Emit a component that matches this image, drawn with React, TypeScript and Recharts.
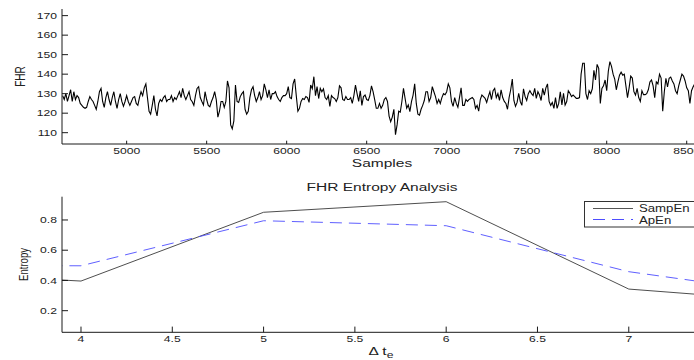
import React from 'react';
import { LineChart, Line, XAxis, YAxis } from 'recharts';

const FONT = '"Liberation Sans", Arial, Helvetica, sans-serif';
const SX = 1.35; // horizontal glyph stretch used for all labels

// ---- FHR trace (one value every 10 samples, starting at sample 4600) ----
const SAMPLE_START = 4600;
const SAMPLE_STEP = 10;

const fhrSeg1 = [
  129, 127, 130, 126, 129, 132, 126, 131, 127, 129,
  128, 125, 124, 123, 122.5, 123, 126, 128.5, 127, 126,
  124, 122, 126, 131, 132.7, 126, 123, 128, 131, 127,
  124, 128, 131, 126, 122.5, 127, 130, 126, 123.5, 126,
  129, 126, 124, 126, 128, 128.5, 125, 124, 128, 131,
  129, 133, 135, 128, 121, 119.5, 124, 129, 122, 118.6,
  125, 127, 126, 128, 129, 126, 127,
];
const fhrSeg2 = [
  127, 129, 126, 128, 127, 129, 131, 128, 132.7, 129,
  127, 129, 131, 127, 125.9, 124, 129, 132.7, 133.6, 128,
  126, 124.2, 131, 127, 124, 123.3, 126, 128, 131, 127,
  118, 121, 126, 126, 123, 126, 136.5, 133, 114, 112,
  116, 134.4, 126, 125.5, 128.5, 130, 131, 122, 119.5, 121,
  128, 132, 133.6, 129, 126, 128, 131, 127, 129, 135,
  132, 128, 132, 127, 130,
];
const fhrSeg3 = [
  130, 131, 128.5, 127, 126, 128, 129, 129, 130, 133.6,
  128, 127.5, 135, 137.5, 129, 121, 122.5, 126, 127.5, 127,
  128.5, 128, 125.5, 134.4, 132.5, 138.7, 129, 133.6, 127.5, 132.7,
  131, 132.5, 128, 127, 129, 123.5, 129, 128, 127.5, 126,
  128, 134, 133, 127, 126.5, 128.5, 127, 127, 128, 125,
  129, 134.4, 130, 126, 131.5, 124, 128.5, 129.3, 127, 126.5,
  129, 134, 131, 127, 122.5, 122.5,
];
const fhrSeg4 = [
  125, 122.5, 124, 127, 128, 126, 118.5, 115.6, 118, 122,
  109, 114, 121, 120.5, 126, 132.7, 127.6, 122.5, 124.2, 120.8,
  125.9, 129.3, 135, 125, 119.5, 119, 122, 124, 126.5, 131,
  131, 126, 128, 133.6, 131, 128.5, 125, 127, 125, 128,
  130, 129.5, 131, 135, 133, 126, 123.5, 128, 125, 123,
  128, 133, 124, 124, 127, 126, 127, 127.5, 128, 127,
  122.5, 124, 121, 127, 129.3,
];
const fhrSeg5 = [
  128.5, 127.6, 125.5, 128.5, 131, 127, 131.5, 132.7, 128, 130,
  126.5, 132, 128, 126, 125, 122, 128, 132, 137.5, 126.5,
  123.5, 125.5, 130.2, 126, 124, 132.5, 128.5, 126.5, 130, 131.5,
  130, 129, 132.7, 127.6, 131, 129.3, 126.5, 132.7, 129.3, 133,
  135, 126, 124, 125.5, 122.5, 128, 122.5, 125, 131, 124.2,
  130.2, 124.2, 126, 131.5, 130.2, 128.5, 129.3, 128.5, 127.6, 127.6,
  128, 140, 145.6, 145.6, 130, 127,
];
const fhrSeg6 = [
  131.5, 130, 132.5, 142, 137, 145, 143, 125, 132.7, 134,
  137, 131.5, 141.5, 146.4, 144, 140, 137.5, 132, 136, 139.5,
  141, 139.5, 140, 134, 128, 133, 139, 138, 131, 129.3,
  132.7, 128, 126, 131.5, 129.5, 129.5, 130, 132, 136, 137,
  134, 128, 136, 135, 140, 138, 121, 131, 137.9, 133.5,
  137.9, 138.5, 136.5, 135, 131.5, 130, 134, 137, 140, 139,
  136.5, 133, 131.5, 125, 131.5, 133.5,
  135, 131, 128, 134, 137, 132, 129,
];

const fhrValues = [...fhrSeg1, ...fhrSeg2, ...fhrSeg3, ...fhrSeg4, ...fhrSeg5, ...fhrSeg6];
const fhrData = fhrValues.map((v, i) => ({ sample: SAMPLE_START + i * SAMPLE_STEP, fhr: v }));

const sampleTicks = [5000, 5500, 6000, 6500, 7000, 7500, 8000, 8500];
const fhrTicks = [110, 120, 130, 140, 150, 160, 170];
const sampleDomain = [4596, 8608];
const fhrDomain = [104.2, 173.4];

// ---- Entropy vs. delta t_e ----
const deltaT = [3, 4, 5, 6, 7, 8];
const sampEn = [0.46, 0.396, 0.851, 0.921, 0.343, 0.25];
const apEn = [0.5, 0.497, 0.795, 0.762, 0.458, 0.29];
const entropyData = deltaT.map((d, i) => ({ dt: d, samp: sampEn[i], ap: apEn[i] }));

const deltaTicks = [4, 4.5, 5, 5.5, 6, 6.5, 7];
const entropyTicks = [0.2, 0.4, 0.6, 0.8];
const deltaDomain = [3.896, 7.412];
const entropyDomain = [0.057, 0.954];

const AXIS_COLOR = '#1a1a1a';
const TEXT_COLOR = '#222';

const makeXTick = (drop: number, fmt: (v: number) => string) => (props: any) => {
  const { x, y, payload } = props;
  return (
    <text
      transform={`translate(${x},${y + drop}) scale(${SX},1)`}
      textAnchor="middle"
      fontSize={9}
      fontFamily={FONT}
      fill={TEXT_COLOR}
    >
      {fmt(payload.value)}
    </text>
  );
};

const makeYTick = (fmt: (v: number) => string) => (props: any) => {
  const { x, y, payload } = props;
  return (
    <text
      transform={`translate(${x},${y + 3.2}) scale(${SX},1)`}
      textAnchor="end"
      fontSize={9}
      fontFamily={FONT}
      fill={TEXT_COLOR}
    >
      {fmt(payload.value)}
    </text>
  );
};

const EmptyTick = () => <g />;

const fmtInt = (v: number) => String(v);
const fmtOne = (v: number) => v.toFixed(1);
const fmtDelta = (v: number) => String(v);

const Labels = () => (
  <svg
    width={694}
    height={360}
    style={{ position: 'absolute', left: 0, top: 0, pointerEvents: 'none' }}
  >
    <g fontFamily={FONT} fill={TEXT_COLOR}>
      <text transform="translate(25,76.5) rotate(-90) scale(1,1.4)" textAnchor="middle" fontSize={10}>
        FHR
      </text>
      <text transform={`translate(382,166.5) scale(${SX},1)`} textAnchor="middle" fontSize={11.5}>
        Samples
      </text>
      <text transform={`translate(382,190.5) scale(${SX},1)`} textAnchor="middle" fontSize={11.5}>
        FHR Entropy Analysis
      </text>
      <text transform="translate(28,264.5) rotate(-90) scale(1,1.4)" textAnchor="middle" fontSize={9.6}>
        Entropy
      </text>
      <text transform={`translate(381,355) scale(${SX},1)`} textAnchor="middle" fontSize={11.5}>
        Δ t
        <tspan fontSize={9} dy={3}>e</tspan>
      </text>
    </g>
    {/* legend */}
    <rect x={584.5} y={201.5} width={130} height={25.5} fill="#fff" stroke="#333" strokeWidth={1} />
    <line x1={593} y1={208.5} x2={633} y2={208.5} stroke="#555" strokeWidth={1} />
    <line x1={593} y1={219.5} x2={633} y2={219.5} stroke="#4d4dff" strokeWidth={1} strokeDasharray="12 7" />
    <g fontFamily={FONT} fill={TEXT_COLOR} fontSize={11}>
      <text transform="translate(639,212) scale(1.2,1)">SampEn</text>
      <text transform="translate(639,223.5) scale(1.2,1)">ApEn</text>
    </g>
  </svg>
);

export default function App() {
  return (
    <div
      style={{
        position: 'absolute',
        left: 0,
        top: 0,
        width: 694,
        height: 360,
        overflow: 'hidden',
        background: '#fff',
      }}
    >
      <div style={{ position: 'absolute', left: 0, top: 0 }}>
        <LineChart width={720} height={180} data={fhrData} margin={{ top: 9, right: 16, bottom: 16, left: 0 }}>
          <XAxis
            dataKey="sample"
            type="number"
            domain={sampleDomain}
            ticks={sampleTicks}
            interval={0}
            allowDataOverflow
            height={20}
            tickSize={-3.3}
            tickMargin={3.3}
            tick={makeXTick(10, fmtInt)}
            axisLine={{ stroke: AXIS_COLOR }}
            tickLine={{ stroke: AXIS_COLOR }}
          />
          <XAxis
            xAxisId="top"
            orientation="top"
            dataKey="sample"
            type="number"
            domain={sampleDomain}
            ticks={sampleTicks}
            interval={0}
            allowDataOverflow
            height={0}
            tickSize={-3.3}
            tick={EmptyTick}
            axisLine={{ stroke: '#777' }}
            tickLine={{ stroke: AXIS_COLOR }}
          />
          <YAxis
            type="number"
            domain={fhrDomain}
            ticks={fhrTicks}
            interval={0}
            allowDataOverflow
            width={62}
            tickSize={-6}
            tickMargin={11}
            tick={makeYTick(fmtInt)}
            axisLine={{ stroke: AXIS_COLOR }}
            tickLine={{ stroke: AXIS_COLOR }}
          />
          <Line
            dataKey="fhr"
            stroke="#000"
            strokeWidth={1.1}
            dot={false}
            isAnimationActive={false}
          />
        </LineChart>
      </div>
      <div style={{ position: 'absolute', left: 0, top: 170 }}>
        <LineChart width={720} height={190} data={entropyData} margin={{ top: 26.7, right: 16, bottom: 7.7, left: 0 }}>
          <XAxis
            dataKey="dt"
            type="number"
            domain={deltaDomain}
            ticks={deltaTicks}
            interval={0}
            allowDataOverflow
            height={20}
            tickSize={-5.7}
            tickMargin={5.7}
            tick={makeXTick(9.4, fmtDelta)}
            axisLine={{ stroke: AXIS_COLOR }}
            tickLine={{ stroke: AXIS_COLOR }}
          />
          <XAxis
            xAxisId="top"
            orientation="top"
            dataKey="dt"
            type="number"
            domain={deltaDomain}
            ticks={deltaTicks}
            interval={0}
            allowDataOverflow
            height={0}
            tickSize={-5.7}
            tick={EmptyTick}
            axisLine={{ stroke: '#777' }}
            tickLine={{ stroke: AXIS_COLOR }}
          />
          <YAxis
            type="number"
            domain={entropyDomain}
            ticks={entropyTicks}
            interval={0}
            allowDataOverflow
            width={62}
            tickSize={-6}
            tickMargin={11}
            tick={makeYTick(fmtOne)}
            axisLine={{ stroke: AXIS_COLOR }}
            tickLine={{ stroke: AXIS_COLOR }}
          />
          <Line
            dataKey="samp"
            stroke="#3a3a3a"
            strokeWidth={0.9}
            dot={false}
            isAnimationActive={false}
          />
          <Line
            dataKey="ap"
            stroke="#4d4dff"
            strokeWidth={0.9}
            strokeDasharray="12 7"
            dot={false}
            isAnimationActive={false}
          />
        </LineChart>
      </div>
      <Labels />
    </div>
  );
}
